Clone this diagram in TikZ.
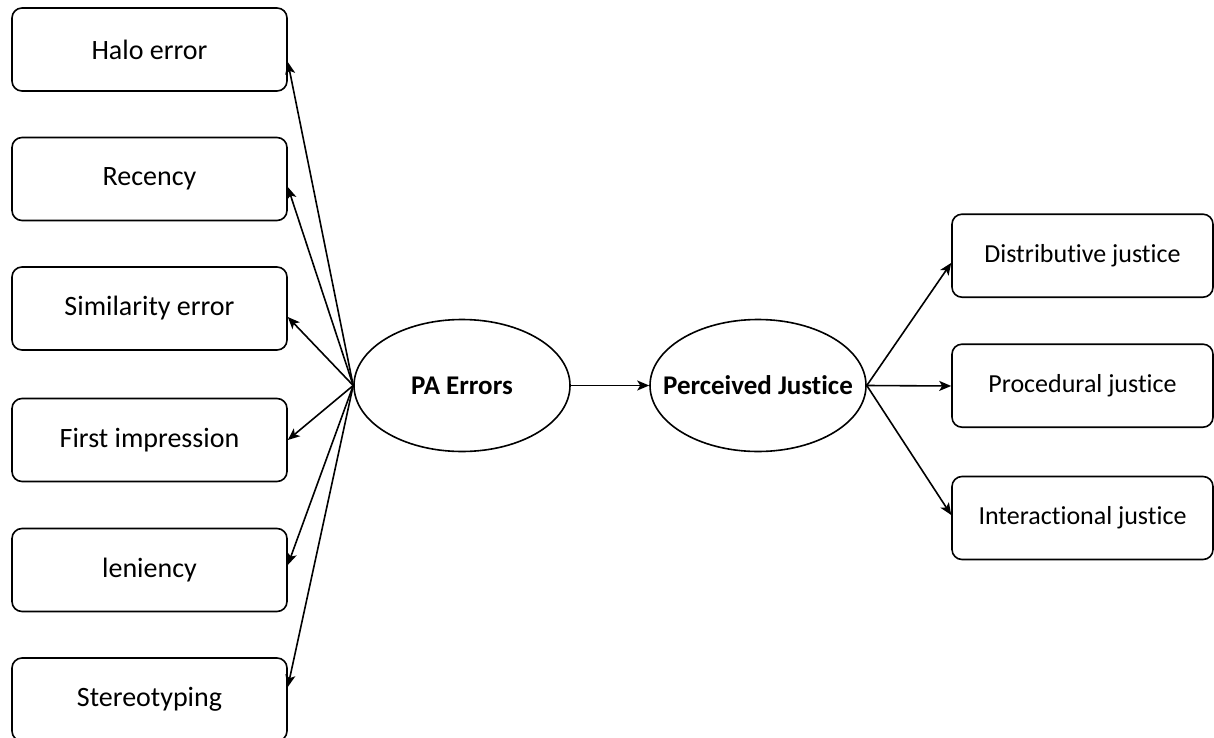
\documentclass[tikz,border=0pt]{standalone}
\usepackage{fontspec}
\setmainfont{Carlito}[RawFeature={-liga;-clig;-calt;-dlig}]
\usetikzlibrary{arrows.meta,shapes.geometric}
\begin{document}
\begin{tikzpicture}[x=0.5pt,y=-0.5pt,
  leftbox/.style={draw,line width=0.8pt,rounded corners=5pt,minimum width=137.5pt,minimum height=41.5pt,inner sep=0pt,font=\fontsize{14}{16}\selectfont},
  rightbox/.style={draw,line width=0.8pt,rounded corners=5pt,minimum width=130.5pt,minimum height=41.5pt,inner sep=0pt,font=\fontsize{13}{15}\selectfont},
  oval/.style={draw,line width=0.8pt,ellipse,minimum width=108pt,minimum height=66pt,inner sep=0pt,font=\bfseries\fontsize{13.5}{15}\selectfont},
  link/.style={line width=0.8pt,-{Stealth[length=6pt,width=5pt,inset=1.5pt]}}]
\useasboundingbox (0,0) rectangle (1214,738);
\clip (0,0) rectangle (1214,738);
\node[leftbox] (halo) at (149.5,49.5) {Halo error};
\node[leftbox] (rec) at (149.5,179) {Recency};
\node[leftbox] (sim) at (149.5,308.5) {Similarity error};
\node[leftbox] (first) at (149.5,440) {First impression};
\node[leftbox] (len) at (149.5,570) {leniency};
\node[leftbox] (ster) at (149.5,699.5) {Stereotyping};
\node[oval] (pa) at (462,385.5) {\makebox[0pt]{PA Errors}};
\node[oval] (pj) at (758,385.5) {\makebox[0pt]{Perceived Justice}};
\node[rightbox] (dist) at (1082.5,255.7) {Distributive justice};
\node[rightbox] (proc) at (1082.5,385.7) {Procedural justice};
\node[rightbox] (inter) at (1082.5,518) {Interactional justice};
\draw[link] (pa.west) -- ([yshift=-6.25pt]halo.east);
\draw[link] (pa.west) -- ([yshift=-4pt]rec.east);
\draw[link] (pa.west) -- ([yshift=-4.25pt]sim.east);
\draw[link] (pa.west) -- (first.east);
\draw[link] (pa.west) -- ([yshift=2.5pt]len.east);
\draw[link] (pa.west) -- ([yshift=6.25pt]ster.east);
\draw[link] (pa.east) -- (pj.west);
\draw[link] (pj.east) -- ([yshift=-3.6pt]dist.west);
\draw[link] (pj.east) -- ([yshift=-0.15pt]proc.west);
\draw[link] (pj.east) -- ([yshift=1.5pt]inter.west);
\end{tikzpicture}
\end{document}
